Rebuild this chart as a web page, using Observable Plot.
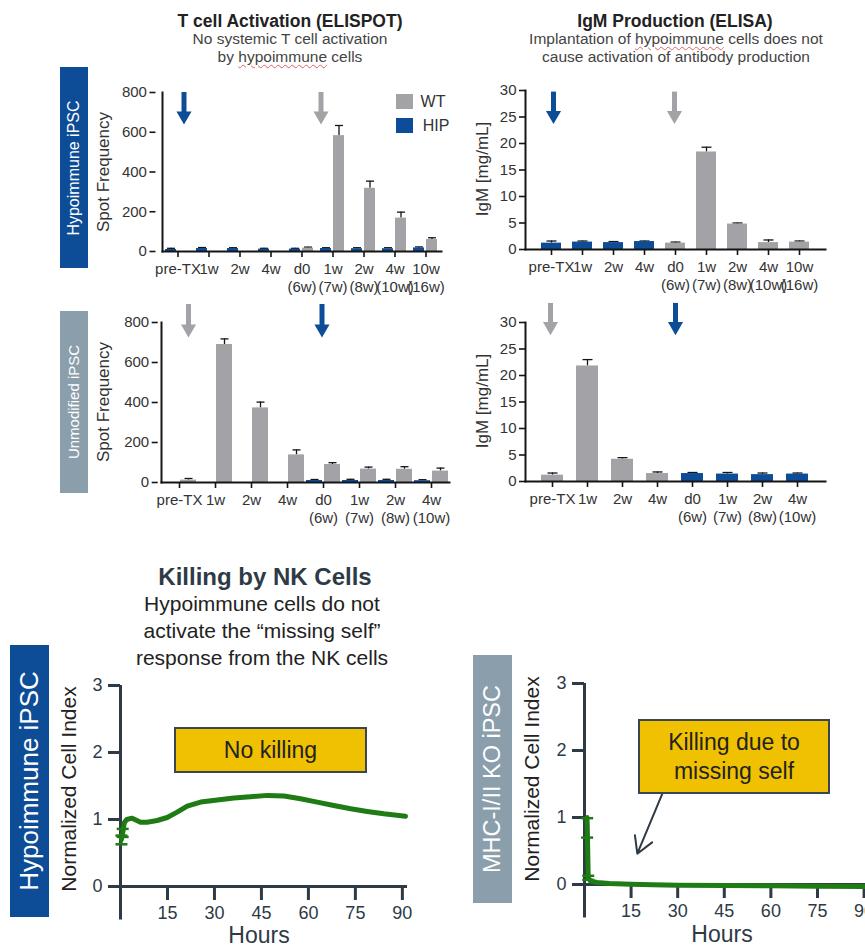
<!DOCTYPE html>
<html><head><meta charset="utf-8">
<script src="https://cdn.jsdelivr.net/npm/d3@7"></script>
<script src="https://cdn.jsdelivr.net/npm/@observablehq/plot@0.6"></script>
<style>
html,body{margin:0;padding:0;background:#fff;}
body{width:865px;height:946px;overflow:hidden;position:relative;font-family:"Liberation Sans",Arial,sans-serif;}
#root{position:absolute;left:0;top:0;width:865px;height:946px;}
.wavy{text-decoration:underline wavy #e06060;text-decoration-thickness:1px;text-underline-offset:2px;}
</style></head>
<body><div id="root"></div>
<script>
// ---------------- DATA ----------------
// ELISPOT, Hypoimmune iPSC row
const elispotHypoCats = ["pre-TX","1w","2w","4w","d0\n(6w)","1w\n(7w)","2w\n(8w)","4w\n(10w)","10w\n(16w)"];
const elispotHypoWT     = [null, null, null, null, 17, 583, 318, 168, 60];
const elispotHypoWTErr  = [null, null, null, null, 22, 634, 354, 198, 69];
const elispotHypoHIP    = [10, 15, 15, 12, 12, 15, 14, 14, 18];
const elispotHypoHIPErr = [16, 20, 19, 16, 16, 19, 19, 19, 23];
// ELISPOT, Unmodified iPSC row
const elispotUnmodCats = ["pre-TX","1w","2w","4w","d0\n(6w)","1w\n(7w)","2w\n(8w)","4w\n(10w)"];
const elispotUnmodWT     = [12, 690, 373, 138, 90, 67, 66, 57];
const elispotUnmodWTErr  = [20, 718, 402, 163, 99, 77, 79, 72];
const elispotUnmodHIP    = [null, null, null, null, 10, 10, 10, 9];
const elispotUnmodHIPErr = [null, null, null, null, 15, 16, 16, 14];
// ELISA, Hypoimmune iPSC row
const elisaHypoCats   = ["pre-TX","1w","2w","4w","d0\n(6w)","1w\n(7w)","2w\n(8w)","4w\n(10w)","10w\n(16w)"];
const elisaHypoSeries = ["HIP","HIP","HIP","HIP","WT","WT","WT","WT","WT"];
const elisaHypoIgM    = [1.2, 1.4, 1.3, 1.5, 1.2, 18.4, 4.8, 1.3, 1.4];
const elisaHypoErr    = [1.6, 1.6, 1.5, 1.6, 1.4, 19.3, 5.0, 1.8, 1.6];
// ELISA, Unmodified iPSC row
const elisaUnmodCats   = ["pre-TX","1w","2w","4w","d0\n(6w)","1w\n(7w)","2w\n(8w)","4w\n(10w)"];
const elisaUnmodSeries = ["WT","WT","WT","WT","HIP","HIP","HIP","HIP"];
const elisaUnmodIgM    = [1.2, 21.8, 4.2, 1.5, 1.5, 1.4, 1.3, 1.4];
const elisaUnmodErr    = [1.6, 23.0, 4.5, 1.8, 1.7, 1.7, 1.6, 1.6];
// injection arrows (category, series colour)
const elispotHypoArrows  = [{cat:"pre-TX", slot:"WT", series:"HIP"}, {cat:"1w\n(7w)", slot:"HIP", series:"WT"}];
const elispotUnmodArrows = [{cat:"pre-TX", slot:"WT", series:"WT"}, {cat:"d0\n(6w)", slot:"HIP", series:"HIP"}];
const elisaHypoArrows    = [{cat:"pre-TX", series:"HIP"}, {cat:"d0\n(6w)", series:"WT"}];
const elisaUnmodArrows   = [{cat:"pre-TX", series:"WT"}, {cat:"4w", series:"HIP"}];
// tick labels
const elispotTicks = [0, 200, 400, 600, 800];
const elisaTicks = [0, 5, 10, 15, 20, 25, 30];
const lineYTicks = [0, 1, 2, 3];
const lineXTicks = [15, 30, 45, 60, 75, 90];
const seriesNames = ["WT", "HIP"];
// NK killing, Hypoimmune iPSC
const hypoHours = [0.3, 0.7, 1.2, 2, 3.7, 6.4, 8.5, 11.7, 14.9, 18.1, 21.3, 25.6, 30.9, 36.2, 41.5, 46.9, 52.2, 57.5, 62.8, 68.1, 73.5, 78.8, 84.1, 91];
const hypoIndex = [0.70, 0.80, 0.95, 1.00, 1.02, 0.96, 0.96, 0.985, 1.03, 1.11, 1.20, 1.26, 1.29, 1.32, 1.34, 1.36, 1.35, 1.31, 1.26, 1.21, 1.16, 1.12, 1.085, 1.05];
const hypoErrHours = [0.3, 0.7];
const hypoErrLow   = [0.63, 0.74];
const hypoErrHigh  = [0.76, 0.86];
// NK killing, MHC-I/II KO iPSC
const koHours = [0.8, 0.9, 1.2, 2, 4, 8, 15, 22, 30, 45, 60, 75, 90, 95];
const koIndex = [1.00, 0.85, 0.10, 0.05, 0.03, 0.015, 0.005, -0.005, -0.01, -0.015, -0.02, -0.025, -0.03, -0.03];
const koErrHours = [0.85, 1.2];
const koErrLow   = [0.70, 0.07];
const koErrHigh  = [0.99, 0.13];
const koAnnotArrow = [{x1: 25, y1: 1.35, x2: 17, y2: 0.46}];

// ---------------- STYLE ----------------
const BLUE = "#0d4c96", GREY = "#a3a3a7", GREEN = "#1f7c15", INK = "#2e3a45", AX = "#151515";
const FONT = "Liberation Sans, Arial, sans-serif";
const root = document.getElementById("root");
const capSymbol = {draw(ctx, size) { const r = Math.sqrt(size / Math.PI); ctx.moveTo(-r, 0); ctx.lineTo(r, 0); }};

function place(node, left, top) {
  node.style.position = "absolute"; node.style.left = left + "px"; node.style.top = top + "px";
  root.appendChild(node); return node;
}
function txt(html, x, y, o = {}) {
  const d = document.createElement("div");
  d.innerHTML = html;
  Object.assign(d.style, {position: "absolute", left: x + "px", top: y + "px",
    transform: "translate(-50%,-50%)" + (o.rotate ? ` rotate(${o.rotate}deg)` : ""),
    whiteSpace: "nowrap", fontSize: (o.size || 14) + "px", fontWeight: o.weight || "normal",
    color: o.color || "#333", lineHeight: o.lh || "1.15", textAlign: "center"});
  root.appendChild(d); return d;
}
function box(x, y, w, h, bg, border) {
  const d = document.createElement("div");
  Object.assign(d.style, {position: "absolute", left: x + "px", top: y + "px", width: w + "px", height: h + "px",
    background: bg, boxSizing: "border-box", border: border || "none"});
  root.appendChild(d); return d;
}
const svgStyle = {fontFamily: FONT, color: "#333", background: "transparent", overflow: "visible", maxWidth: "none"};

// ---------------- ELISPOT (grouped bars, faceted by time point) ----------------
function elispotPlot(c) {
  const rows = [];
  c.cats.forEach((cat, i) => {
    if (c.hip[i] != null) rows.push({cat, series: "HIP", value: c.hip[i], err: c.hipErr[i]});
    if (c.wt[i] != null) rows.push({cat, series: "WT", value: c.wt[i], err: c.wtErr[i]});
  });
  const range = c.width - c.marginLeft - c.marginRight;
  const step = range / (c.cats.length + 2 * c.fxPad);
  const arrowMarks = c.arrows.flatMap((a, i) => [
    Plot.ruleX([a], {fx: "cat", x: "slot", y1: () => c.arrowTop, y2: () => c.arrowHead, stroke: "series", strokeWidth: 5, dx: c.arrowDx[i]}),
    Plot.dot([a], {fx: "cat", x: "slot", y: () => c.arrowHead, symbol: "triangle", rotate: 180, r: 5.6, fill: "series", dx: c.arrowDx[i]})
  ]);
  return Plot.plot({
    width: c.width, height: c.height, marginLeft: c.marginLeft, marginRight: c.marginRight,
    marginTop: c.marginTop, marginBottom: c.marginBottom, style: svgStyle,
    fx: {domain: c.cats, paddingInner: 0, paddingOuter: c.fxPad},
    x: {domain: ["HIP", "WT"], paddingInner: c.xPadIn, paddingOuter: c.xPadOut, axis: null},
    y: {domain: [0, 800]},
    color: {domain: seriesNames, range: [GREY, BLUE]},
    marks: [
      Plot.ruleX(rows, {fx: "cat", x: "series", y1: "value", y2: "err", stroke: AX, strokeWidth: 1.3}),
      Plot.dot(rows, {fx: "cat", x: "series", y: "err", symbol: capSymbol, r: 4, stroke: AX, strokeWidth: 1.3, fill: "none"}),
      Plot.barY(rows, {fx: "cat", x: "series", y: "value", fill: "series"}),
      ...arrowMarks,
      Plot.axisY({ticks: elispotTicks, tickSize: 6, tickPadding: 3, fontSize: 15, label: null, stroke: AX, strokeWidth: 1.6, dx: -c.fxPad * step}),
      Plot.axisFx({anchor: "bottom", tickSize: 6, tickPadding: 3, fontSize: 15, lineHeight: 1.22, label: null, stroke: AX, strokeWidth: 1.6}),
      Plot.frame({anchor: "left", facet: "super", stroke: AX, strokeWidth: 2}),
      Plot.frame({anchor: "bottom", facet: "super", stroke: AX, strokeWidth: 2})
    ]
  });
}

// ---------------- ELISA (single bars) ----------------
function elisaPlot(c) {
  const rows = c.cats.map((cat, i) => ({cat, series: c.series[i], value: c.igm[i], err: c.err[i]}));
  const arrowMarks = c.arrows.flatMap((a, i) => [
    Plot.ruleX([a], {x: "cat", y1: () => c.arrowTop, y2: () => c.arrowHead, stroke: "series", strokeWidth: 5, dx: c.arrowDx[i]}),
    Plot.dot([a], {x: "cat", y: () => c.arrowHead, symbol: "triangle", rotate: 180, r: 5.6, fill: "series", dx: c.arrowDx[i]})
  ]);
  return Plot.plot({
    width: c.width, height: c.height, marginLeft: c.marginLeft, marginRight: c.marginRight,
    marginTop: c.marginTop, marginBottom: c.marginBottom, style: svgStyle,
    x: {domain: c.cats, paddingInner: c.padIn, paddingOuter: c.padOut},
    y: {domain: [0, 30]},
    color: {domain: seriesNames, range: [GREY, BLUE]},
    marks: [
      Plot.ruleX(rows, {x: "cat", y1: "value", y2: "err", stroke: AX, strokeWidth: 1.3}),
      Plot.dot(rows, {x: "cat", y: "err", symbol: capSymbol, r: 5, stroke: AX, strokeWidth: 1.3, fill: "none"}),
      Plot.barY(rows, {x: "cat", y: "value", fill: "series"}),
      ...arrowMarks,
      Plot.axisY({ticks: elisaTicks, tickSize: 6, tickPadding: 3, fontSize: 15, label: null, stroke: AX, strokeWidth: 1.6}),
      Plot.axisX({anchor: "bottom", tickSize: 6, tickPadding: 3, fontSize: 15, lineHeight: 1.22, label: null, stroke: AX, strokeWidth: 1.6}),
      Plot.frame({anchor: "left", stroke: AX, strokeWidth: 2}),
      Plot.frame({anchor: "bottom", stroke: AX, strokeWidth: 2})
    ]
  });
}

// ---------------- NK killing line charts ----------------
function killPlot(c) {
  const pts = c.hours.map((t, i) => ({t, v: c.index[i]}));
  const errs = c.errHours.map((t, i) => ({t, lo: c.errLow[i], hi: c.errHigh[i]}));
  const marks = [
    Plot.frame({anchor: "bottom", stroke: INK, strokeWidth: 3}),
    Plot.ruleX([0], {y1: () => 3, y2: () => -0.5, stroke: INK, strokeWidth: 3}),
    Plot.axisY({ticks: lineYTicks, tickFormat: d3.format("d"), tickSize: 12, tickPadding: 6, fontSize: 18, label: null, stroke: INK, strokeWidth: 3}),
    Plot.axisX({ticks: lineXTicks, tickFormat: d3.format("d"), tickSize: 14, tickPadding: 6, fontSize: 18, label: null, stroke: INK, strokeWidth: 3}),
    Plot.ruleX(errs, {x: "t", y1: "lo", y2: "hi", stroke: GREEN, strokeWidth: 2.5}),
    Plot.dot(errs, {x: "t", y: "lo", symbol: capSymbol, r: 6, stroke: GREEN, strokeWidth: 2.5}),
    Plot.dot(errs, {x: "t", y: "hi", symbol: capSymbol, r: 6, stroke: GREEN, strokeWidth: 2.5}),
    Plot.line(pts, {x: "t", y: "v", stroke: GREEN, strokeWidth: 5})
  ];
  if (c.annot) marks.push(Plot.arrow(c.annot, {x1: "x1", y1: "y1", x2: "x2", y2: "y2", stroke: INK, strokeWidth: 2, headLength: 14}));
  return Plot.plot({
    width: c.width, height: 276, marginLeft: c.marginLeft, marginRight: 5, marginTop: 15, marginBottom: 60,
    style: {...svgStyle, color: INK},
    x: {domain: c.xDomain}, y: {domain: [0, 3]},
    marks
  });
}

// ---------------- LAYOUT ----------------
place(elispotPlot({cats: elispotHypoCats, wt: elispotHypoWT, wtErr: elispotHypoWTErr, hip: elispotHypoHIP, hipErr: elispotHypoHIPErr,
  arrows: elispotHypoArrows, arrowTop: 800, arrowHead: 683, arrowDx: [0, -5],
  width: 370, height: 216, marginLeft: 75, marginRight: 2, marginTop: 12, marginBottom: 45,
  fxPad: 0.21, xPadIn: 0.146, xPadOut: 0.21}), 80, 80);

place(elispotPlot({cats: elispotUnmodCats, wt: elispotUnmodWT, wtErr: elispotUnmodWTErr, hip: elispotUnmodHIP, hipErr: elispotUnmodHIPErr,
  arrows: elispotUnmodArrows, arrowTop: 890, arrowHead: 768, arrowDx: [0, 7.5],
  width: 377, height: 237, marginLeft: 75, marginRight: 2, marginTop: 32, marginBottom: 45,
  fxPad: 0.09, xPadIn: 0.1, xPadOut: 0.05}), 80, 290);

place(elisaPlot({cats: elisaHypoCats, series: elisaHypoSeries, igm: elisaHypoIgM, err: elisaHypoErr,
  arrows: elisaHypoArrows, arrowTop: 29.7, arrowHead: 25.3, arrowDx: [2, -1],
  width: 367, height: 216, marginLeft: 65, marginRight: 2, marginTop: 12, marginBottom: 45,
  padIn: 0.34, padOut: 0.37}), 460, 78);

place(elisaPlot({cats: elisaUnmodCats, series: elisaUnmodSeries, igm: elisaUnmodIgM, err: elisaUnmodErr,
  arrows: elisaUnmodArrows, arrowTop: 33.6, arrowHead: 29.25, arrowDx: [-2, 18],
  width: 367, height: 236, marginLeft: 65, marginRight: 2, marginTop: 32, marginBottom: 45,
  padIn: 0.37, padOut: 0.375}), 460, 290);

place(killPlot({hours: hypoHours, index: hypoIndex, errHours: hypoErrHours, errLow: hypoErrLow, errHigh: hypoErrHigh,
  xDomain: [0, 91], width: 370, marginLeft: 80}), 40, 670);

place(killPlot({hours: koHours, index: koIndex, errHours: koErrHours, errLow: koErrLow, errHigh: koErrHigh,
  annot: koAnnotArrow, xDomain: [0, 94], width: 381, marginLeft: 84}), 500, 668);

// ---------------- TEXT ----------------
txt("T cell Activation (ELISPOT)", 290, 21, {size: 17.5, weight: "bold", color: "#222"});
txt('No systemic T cell activation<br>by <span class="wavy">hypoimmune</span> cells', 290, 48, {size: 15.5, color: "#444", lh: "18px"});
txt("IgM Production (ELISA)", 675, 21, {size: 17.5, weight: "bold", color: "#222"});
txt('Implantation of <span class="wavy">hypoimmune</span> cells does not<br>cause activation of antibody production', 676, 48, {size: 15.5, color: "#444", lh: "18px"});

// row labels (top)
box(60, 67, 28, 201, BLUE);
txt("Hypoimmune iPSC", 74, 167.5, {size: 16, color: "#fff", rotate: -90});
box(60, 311, 28, 182, "#8a9eac");
txt("Unmodified iPSC", 74, 402, {size: 15, color: "#fff", rotate: -90});

// legend
box(396, 94, 17, 15, GREY);
txt("WT", 433, 101.5, {size: 16, color: "#333"});
box(396, 118, 17, 15, BLUE);
txt("HIP", 436, 125.5, {size: 16, color: "#333"});

// axis titles (bar charts)
txt("Spot Frequency", 103.5, 172, {size: 17, rotate: -90});
txt("IgM [mg/mL]", 483, 169, {size: 17, rotate: -90});
txt("Spot Frequency", 103.5, 402, {size: 17, rotate: -90});
txt("IgM [mg/mL]", 483, 401, {size: 17, rotate: -90});

// NK section
txt("Killing by NK Cells", 265, 577, {size: 24, weight: "bold", color: INK});
txt("Hypoimmune cells do not<br>activate the \u201cmissing self\u201d<br>response from the NK cells", 262, 630, {size: 21, color: "#222", lh: "27px"});
box(10, 645, 39, 272, BLUE);
txt("Hypoimmune iPSC", 29.5, 781, {size: 26, color: "#fff", rotate: -90});
box(473, 655, 39, 248, "#8a9eac");
txt("MHC-I/II KO iPSC", 492.5, 779, {size: 23.5, color: "#fff", rotate: -90});
txt("Normalized Cell Index", 69, 789, {size: 21, color: "#222", rotate: -90});
txt("Normalized Cell Index", 532, 779, {size: 21, color: "#222", rotate: -90});
txt("Hours", 259, 935, {size: 23, color: INK});
txt("Hours", 722, 934, {size: 23, color: INK});

box(174, 727, 193, 46, "#f0c100", "2px solid #3a4652");
txt("No killing", 270.5, 750, {size: 23, color: "#222"});
box(638, 719, 192, 75, "#f0c100", "2px solid #3a4652");
txt("Killing due to<br>missing self", 734, 757, {size: 23, color: "#222", lh: "29px"});
</script>
</body></html>
